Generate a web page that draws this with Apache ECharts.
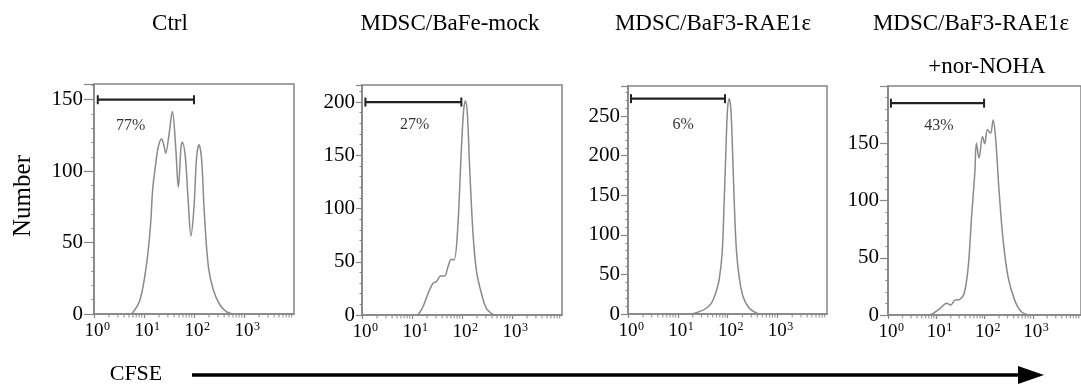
<!DOCTYPE html>
<html><head><meta charset="utf-8">
<script src="https://cdn.jsdelivr.net/npm/echarts@6/dist/echarts.min.js"></script>
<style>html,body{margin:0;padding:0;background:#fff}#c{width:1081px;height:384px}</style>
</head><body><div id="c"></div>
<script>
// ---------- data ----------
const panelTitles = [['Ctrl'], ['MDSC/BaFe-mock'], ['MDSC/BaF3-RAE1ε'], ['MDSC/BaF3-RAE1ε', '+nor-NOHA']];
const percentLabels = ['77%', '27%', '6%', '43%'];
const percentLabelPos = [[5.4, 132], [11.3, 179], [12.8, 239], [11.4, 165]];
const gateRanges = [[1.19, 100], [1.17, 97], [1.15, 89], [1.15, 98]];
const gateLevels = [150, 200, 272, 185];
const yMaxValues = [161, 216, 288, 200];
const yInterval = 50;
const xMin = 1, xMax = 10000;
const xMinorTicks = [2,3,4,5,6,7,8,9,20,30,40,50,60,70,80,90,200,300,400,500,600,700,800,900,2000,3000,4000,5000,6000,7000,8000,9000];

const ctrlCurve = [[5.7,0],[8.3,9.8],[11.3,35.5],[13.5,62],[14.9,87],[17,104],[19.3,117],[22.5,122.5],[25,118],[27.1,112.6],[31.6,125.5],[36.9,141.8],[43,117],[48.6,88.8],[55,117],[58.4,120.3],[67,110],[77,77.6],[87,54.7],[100,75],[113,110],[126,118.5],[142,108],[161,70.6],[194,33],[244,16.8],[331,6.3],[450,1.5],[603,0]];
const mockCurve = [[13.2,0],[16.6,7.8],[20.9,20],[26.3,29.8],[30.7,31.3],[37.5,36.6],[45,36.6],[52.5,45.4],[61.3,52.3],[69,51.6],[81,76.7],[97,155],[108,192.5],[117,201],[128,189],[142,139],[166,76.7],[194,42],[244,20.4],[307,6.3],[417,0.6],[487,0]];
const rae1Curve = [[19,0],[28,3.3],[38,7.6],[48,14],[58,26.6],[68,43.4],[78,77],[86,144.6],[93,208],[100,258],[108,272],[117,258],[126,208],[136,144.6],[151,81],[171,47.6],[205,22],[271,7.6],[380,1.3],[443,0]];
const norNohaCurve = [[6.9,0],[8.7,1.5],[12,5.8],[16.4,10.2],[19.9,8.7],[24.4,13],[31,13.7],[38,19],[46,42],[54,86],[63,124],[68,150],[77,137],[91,156],[101,149.5],[115,161.7],[133,158.8],[151,170.4],[171,153],[200,109],[243,65.5],[307,33.5],[422,13],[580,2.9],[859,0]];
const curves = [ctrlCurve, mockCurve, rae1Curve, norNohaCurve];

// ---------- layout ----------
const FONT = '"Liberation Serif", "Times New Roman", serif';
const grids = [
  {left: 94, top: 84, width: 200, height: 230},
  {left: 362, top: 85, width: 200, height: 230},
  {left: 628, top: 86, width: 199, height: 228},
  {left: 888, top: 86, width: 194, height: 229}
];
const yTickLen = [10, 6, 7, 8];
const titleCenters = [[170, 24], [450, 24], [713, 24], [971, 24]];
const AX = '#858585', CURVE = '#8a8a8a', INK = '#000';

const option = {
  animation: false,
  backgroundColor: '#fff',
  grid: grids.map(g => Object.assign({show: true, borderColor: AX, borderWidth: 1.5, backgroundColor: 'transparent'}, g)),
  xAxis: grids.map((g, i) => ({
    type: 'log', logBase: 10, min: xMin, max: xMax, gridIndex: i,
    axisLine: {show: true, lineStyle: {color: AX, width: 1.5}},
    axisTick: {show: true, length: 4, lineStyle: {color: AX, width: 1.2}},
    splitLine: {show: false},
    axisLabel: {
      showMaxLabel: false, margin: 7, color: INK,
      formatter: v => '{p|}{b|10}{s|' + Math.round(Math.log10(v)) + '}',
      rich: {
        p: {width: 7, height: 10},
        b: {fontFamily: FONT, fontSize: 19, color: INK, verticalAlign: 'bottom', lineHeight: 20},
        s: {fontFamily: FONT, fontSize: 12, color: INK, verticalAlign: 'top', lineHeight: 12, width: 7}
      }
    }
  })),
  yAxis: grids.map((g, i) => ({
    type: 'value', min: 0, max: yMaxValues[i], interval: yInterval, gridIndex: i,
    axisLine: {show: true, lineStyle: {color: AX, width: 1.5}},
    axisTick: {show: true, length: yTickLen[i], lineStyle: {color: AX, width: 1.2}},
    minorTick: {show: true, splitNumber: 5, length: 2.5, lineStyle: {color: AX, width: 1}},
    splitLine: {show: false},
    axisLabel: {showMaxLabel: false, margin: yTickLen[i] + 1, color: INK, fontFamily: FONT, fontSize: 21}
  })),
  series: [],
  graphic: []
};

curves.forEach((c, i) => {
  option.series.push({
    type: 'line', xAxisIndex: i, yAxisIndex: i, data: c, smooth: 0.35,
    symbol: 'none', lineStyle: {color: CURVE, width: 1.5}, silent: true
  });
  option.series.push({
    type: 'line', xAxisIndex: i, yAxisIndex: i, clip: false,
    data: [[gateRanges[i][0], gateLevels[i]], [gateRanges[i][1], gateLevels[i]]],
    symbol: 'rect', symbolSize: [2, 9], showSymbol: true,
    itemStyle: {color: '#222'}, lineStyle: {color: '#222', width: 2.2}, silent: true
  });
  option.series.push({
    type: 'scatter', xAxisIndex: i, yAxisIndex: i, clip: false,
    data: [percentLabelPos[i]], symbolSize: 1, itemStyle: {color: 'transparent'},
    label: {show: true, position: 'inside', formatter: percentLabels[i], fontFamily: FONT, fontSize: 16, color: INK},
    silent: true
  });
  option.series.push({
    type: 'scatter', xAxisIndex: i, yAxisIndex: i, clip: false,
    data: xMinorTicks.map(v => [v, 0]), symbol: 'rect', symbolSize: [1.2, 3], symbolOffset: [0, 2],
    itemStyle: {color: AX}, silent: true, z: 5
  });
  panelTitles[i].forEach((t, k) => {
    option.graphic.push({
      type: 'text', x: titleCenters[i][0] + (k ? 16 : 0), y: titleCenters[i][1] + k * 43,
      style: {text: t, font: '23px ' + FONT, fill: INK, align: 'center', verticalAlign: 'middle'}
    });
  });
});

option.graphic.push(
  {type: 'text', x: 23, y: 196, rotation: Math.PI / 2,
   style: {text: 'Number', font: '25px ' + FONT, fill: INK, align: 'center', verticalAlign: 'middle'}},
  {type: 'text', x: 136, y: 374,
   style: {text: 'CFSE', font: '22px ' + FONT, fill: INK, align: 'center', verticalAlign: 'middle'}},
  {type: 'line', shape: {x1: 192, y1: 375, x2: 1022, y2: 375}, style: {stroke: '#000', lineWidth: 3.5}},
  {type: 'polygon', shape: {points: [[1018, 366], [1044, 375], [1018, 384]]}, style: {fill: '#000'}}
);

const chart = echarts.init(document.getElementById('c'), null, {renderer: 'canvas'});
chart.setOption(option);
</script></body></html>
